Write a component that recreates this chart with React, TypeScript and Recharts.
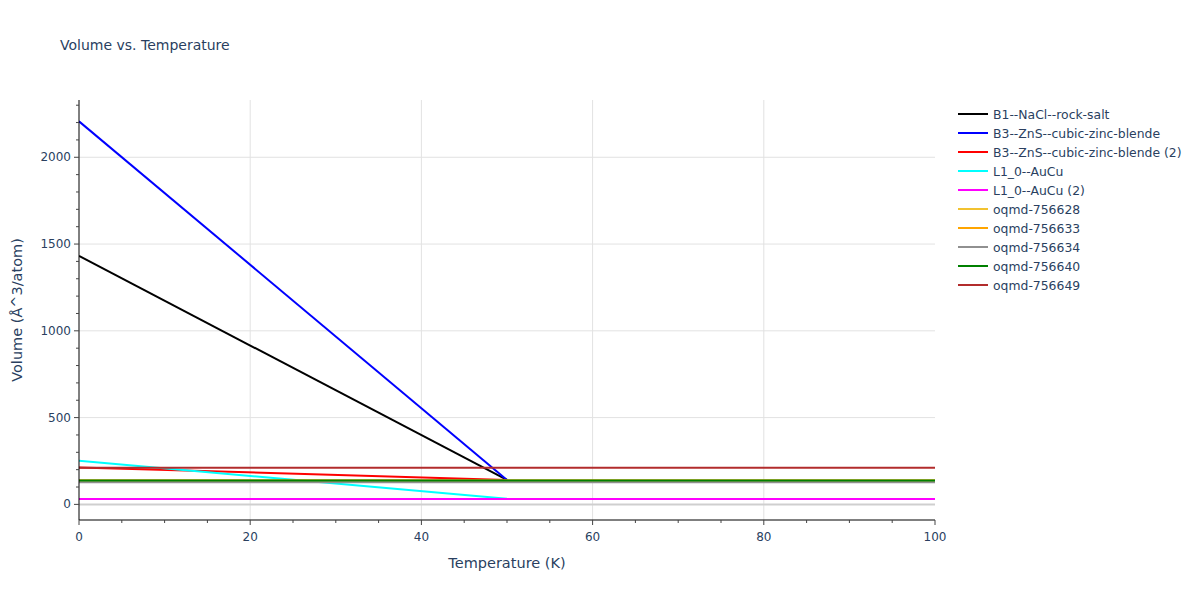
import { CartesianGrid, Legend, Line, LineChart, ReferenceLine, XAxis, YAxis } from 'recharts';

// temperatures (K) at which the volumes were read
const temps = [0, 50, 100];

const b1RockSalt = [1432, 141, null];
const b3ZincBlende = [2207, 141, null];
const b3ZincBlende2 = [213, 141, null];
const l10AuCu = [251, 33, null];
const l10AuCu2 = [31, 31, 31];
const oqmd756628 = [138, 138, 138];
const oqmd756633 = [138, 138, 138];
const oqmd756634 = [128, 128, 128];
const oqmd756640 = [138, 138, 138];
const oqmd756649 = [211, 211, 211];

const xTicks = [0, 5, 10, 15, 20, 25, 30, 35, 40, 45, 50, 55, 60, 65, 70, 75, 80, 85, 90, 95, 100];
const xMajor = [0, 20, 40, 60, 80, 100];
const yTicks = [0, 100, 200, 300, 400, 500, 600, 700, 800, 900, 1000, 1100, 1200, 1300, 1400, 1500, 1600, 1700, 1800, 1900, 2000, 2100, 2200, 2300];
const yMajor = [0, 500, 1000, 1500, 2000];

const series = [
  { key: 'b1', name: 'B1--NaCl--rock-salt', values: b1RockSalt, color: '#000000' },
  { key: 'b3', name: 'B3--ZnS--cubic-zinc-blende', values: b3ZincBlende, color: '#0000ff' },
  { key: 'b3b', name: 'B3--ZnS--cubic-zinc-blende (2)', values: b3ZincBlende2, color: '#ff0000' },
  { key: 'l10', name: 'L1_0--AuCu', values: l10AuCu, color: '#00ffff' },
  { key: 'l10b', name: 'L1_0--AuCu (2)', values: l10AuCu2, color: '#ff00ff' },
  { key: 'o628', name: 'oqmd-756628', values: oqmd756628, color: '#f2c230' },
  { key: 'o633', name: 'oqmd-756633', values: oqmd756633, color: '#ffa500' },
  { key: 'o634', name: 'oqmd-756634', values: oqmd756634, color: '#909090' },
  { key: 'o640', name: 'oqmd-756640', values: oqmd756640, color: '#008000' },
  { key: 'o649', name: 'oqmd-756649', values: oqmd756649, color: '#b22c2c' },
];

const data = temps.map((t, i) => {
  const row: Record<string, number | null> = { t };
  series.forEach((s) => {
    row[s.key] = s.values[i];
  });
  return row;
});

const FONT = '"DejaVu Sans", Verdana, sans-serif';
const TEXT = '#2a3f5f';

function XTick(props: any) {
  const { x, y, payload } = props;
  const major = xMajor.includes(payload.value);
  return (
    <g>
      <line x1={x} x2={x} y1={y} y2={y + (major ? 5 : 3)} stroke="#444" strokeWidth={1} />
      {major && (
        <text x={x} y={y + 21} textAnchor="middle" fontSize={12} fill={TEXT} fontFamily={FONT}>
          {payload.value}
        </text>
      )}
    </g>
  );
}

function YTick(props: any) {
  const { x, y, payload } = props;
  const major = yMajor.includes(payload.value);
  return (
    <g>
      <line x1={x - (major ? 5 : 3)} x2={x} y1={y} y2={y} stroke="#444" strokeWidth={1} />
      {major && (
        <text x={x - 8} y={y + 4} textAnchor="end" fontSize={12} fill={TEXT} fontFamily={FONT}>
          {payload.value}
        </text>
      )}
    </g>
  );
}

function LegendBox() {
  return (
    <svg width={245} height={200}>
      {series.map((s, i) => (
        <g key={s.key} transform={`translate(0, ${11 + i * 19})`}>
          <line x1={3} x2={33} y1={0} y2={0} stroke={s.color} strokeWidth={2} />
          <text x={38} y={4.5} fontSize={12.4} fill={TEXT} fontFamily={FONT}>
            {s.name}
          </text>
        </g>
      ))}
    </svg>
  );
}

export default function App() {
  return (
    <div style={{ position: 'absolute', left: 0, top: 0, width: 1200, height: 600, background: '#fff' }}>
      <LineChart width={1200} height={600} data={data} margin={{ top: 100, right: 265, bottom: 0, left: 0 }}>
        <text x={60} y={50} fontSize={14} fill={TEXT} fontFamily={FONT}>
          Volume vs. Temperature
        </text>
        <CartesianGrid
          stroke="#e2e2e2"
          strokeWidth={1}
          horizontalValues={[500, 1000, 1500, 2000]}
          verticalValues={[20, 40, 60, 80]}
        />
        <ReferenceLine y={0} stroke="#cfcfcf" strokeWidth={2} />
        <XAxis
          type="number"
          dataKey="t"
          domain={[0, 100]}
          ticks={xTicks}
          interval={0}
          height={80}
          tickSize={0}
          tickMargin={0}
          tickLine={false}
          axisLine={{ stroke: '#000', strokeWidth: 1 }}
          tick={<XTick />}
          allowDataOverflow
          label={{ value: 'Temperature (K)', position: 'insideTop', offset: 38, fontSize: 14.5, fill: TEXT, fontFamily: FONT }}
        />
        <YAxis
          type="number"
          domain={[-90, 2330]}
          ticks={yTicks}
          interval={0}
          width={79}
          tickSize={0}
          tickMargin={0}
          tickLine={false}
          axisLine={{ stroke: '#000', strokeWidth: 1 }}
          tick={<YTick />}
          allowDataOverflow
          label={{ value: 'Volume (Å^3/atom)', angle: -90, position: 'insideLeft', offset: 17, fontSize: 14.5, fill: TEXT, fontFamily: FONT, style: { textAnchor: 'middle' } }}
        />
        {series.map((s) => (
          <Line
            key={s.key}
            type="linear"
            dataKey={s.key}
            name={s.name}
            stroke={s.color}
            strokeWidth={2}
            dot={false}
            activeDot={false}
            connectNulls={false}
            isAnimationActive={false}
          />
        ))}
        <Legend
          layout="vertical"
          align="center"
          verticalAlign="middle"
          wrapperStyle={{ left: 955, top: 103, width: 245, height: 200 }}
          content={<LegendBox />}
        />
      </LineChart>
    </div>
  );
}
